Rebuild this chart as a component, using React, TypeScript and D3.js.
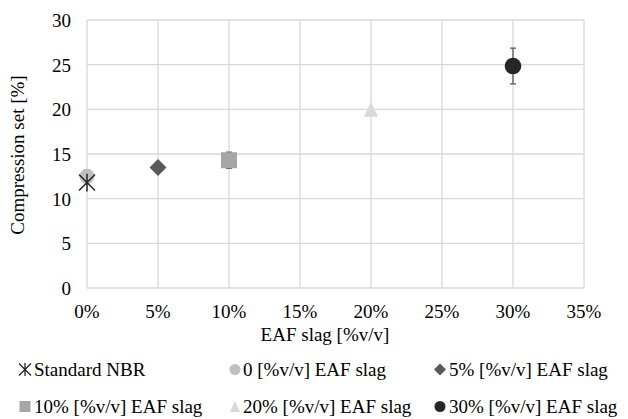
import React from "react";
import * as d3 from "d3";

const seriesNames = [
  "Standard NBR",
  "0 [%v/v] EAF slag",
  "5% [%v/v] EAF slag",
  "10% [%v/v] EAF slag",
  "20% [%v/v] EAF slag",
  "30% [%v/v] EAF slag",
];
const xValues = [0, 0, 5, 10, 20, 30];
const yValues = [11.8, 12.5, 13.5, 14.3, 20, 24.85];
const errValues = [0, 0.7, 0, 0.9, 0, 2.0];
const xTicks = [0, 5, 10, 15, 20, 25, 30, 35];
const yTicks = [0, 5, 10, 15, 20, 25, 30];

const shapes = ["star", "circle", "diamond", "square", "triangle", "circle"];
const colors = ["#262626", "#bfbfbf", "#595959", "#a6a6a6", "#d9d9d9", "#262626"];
const FAM = '"Liberation Serif", "Times New Roman", Tinos';

function markerPath(shape: string, s: number): string {
  switch (shape) {
    case "star":
      return `M${-s},${-s}L${s},${s}M${-s},${s}L${s},${-s}M0,${-s * 1.1}L0,${s * 1.1}`;
    case "circle": {
      const p = d3.path();
      p.arc(0, 0, s, 0, Math.PI * 2);
      p.closePath();
      return p.toString();
    }
    case "diamond":
      return `M0,${-s}L${s},0L0,${s}L${-s},0Z`;
    case "square":
      return `M${-s},${-s}H${s}V${s}H${-s}Z`;
    case "triangle":
      return `M0,${-s}L${s * 0.93},${s}L${-s * 0.93},${s}Z`;
    default:
      return "";
  }
}

const markerSize: Record<string, number> = { star: 8, circle: 7.5, diamond: 8.5, square: 8, triangle: 7.5 };
const legendSize: Record<string, number> = { star: 6, circle: 5.5, diamond: 6, square: 5.5, triangle: 5.5 };

export default function App() {
  const W = 628, H = 419;
  const x = d3.scaleLinear().domain([0, 35]).range([87, 584]);
  const y = d3.scaleLinear().domain([0, 30]).range([288, 20]);

  const legendCols = [25, 235, 440];
  const legendTextX = [34, 243, 449];
  const legendRows = [376, 413];
  const txt = { fontFamily: FAM, fontSize: 19 };

  return (
    <div style={{ position: "absolute", left: 0, top: 0, width: W, height: H, fontFamily: FAM }}>
      <svg width={W} height={H} className="chart" style={{ display: "block", fontFamily: FAM }}>
        <style>{`.chart text { font-family: ${FAM} !important; font-size: 19px; }`}</style>
        {yTicks.map((t) => (
          <line key={"gy" + t} x1={x(0)} x2={x(35)} y1={y(t)} y2={y(t)} stroke="#d9d9d9" strokeWidth={1.3} />
        ))}
        {xTicks.map((t) => (
          <line key={"gx" + t} x1={x(t)} x2={x(t)} y1={y(0)} y2={y(30)} stroke="#d9d9d9" strokeWidth={1.3} />
        ))}
        {yTicks.map((t) => (
          <text key={"ty" + t} x={71} y={y(t) + 7} textAnchor="end" style={txt}>
            {t}
          </text>
        ))}
        {xTicks.map((t) => (
          <text key={"tx" + t} x={x(t)} y={318} textAnchor="middle" style={txt}>
            {t + "%"}
          </text>
        ))}
        <text x={325} y={341} textAnchor="middle" style={txt}>
          EAF slag [%v/v]
        </text>
        <text transform={`translate(24,155) rotate(-90)`} textAnchor="middle" style={txt}>
          Compression set [%]
        </text>
        {xValues.map((xv, i) =>
          errValues[i] > 0 ? (
            <g key={"e" + i} stroke="#595959" strokeWidth={1.3}>
              <line x1={x(xv)} x2={x(xv)} y1={y(yValues[i] - errValues[i])} y2={y(yValues[i] + errValues[i])} />
              <line x1={x(xv) - 3} x2={x(xv) + 3} y1={y(yValues[i] - errValues[i])} y2={y(yValues[i] - errValues[i])} />
              <line x1={x(xv) - 3} x2={x(xv) + 3} y1={y(yValues[i] + errValues[i])} y2={y(yValues[i] + errValues[i])} />
            </g>
          ) : null
        )}
        {[1, 0, 2, 3, 4, 5].map((i) => {
          const sh = shapes[i];
          const r = i === 5 ? 8.3 : markerSize[sh];
          return (
            <path
              key={"m" + i}
              transform={`translate(${x(xValues[i])},${y(yValues[i])})`}
              d={markerPath(sh, r)}
              fill={sh === "star" ? "none" : colors[i]}
              stroke={sh === "star" ? colors[i] : "none"}
              strokeWidth={1.5}
            />
          );
        })}
        {seriesNames.map((name, i) => {
          const col = i % 3;
          const row = Math.floor(i / 3);
          const sh = shapes[i];
          const cy = legendRows[row] - 6.5;
          return (
            <g key={"l" + i}>
              <path
                transform={`translate(${legendCols[col]},${cy})`}
                d={markerPath(sh, legendSize[sh])}
                fill={sh === "star" ? "none" : colors[i]}
                stroke={sh === "star" ? colors[i] : "none"}
                strokeWidth={1.3}
              />
              <text x={legendTextX[col]} y={legendRows[row]} style={txt}>
                {name}
              </text>
            </g>
          );
        })}
      </svg>
    </div>
  );
}
